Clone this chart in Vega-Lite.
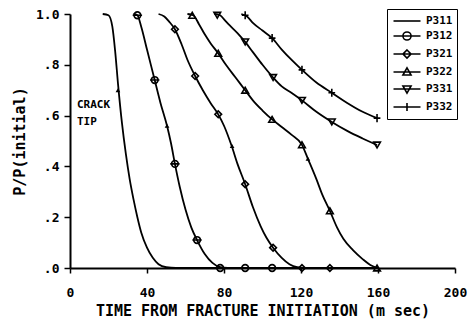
{
  "$schema": "https://vega.github.io/schema/vega-lite/v6.json",
  "width": 385,
  "height": 254,
  "autosize": {"type": "none"},
  "padding": {"left": 70, "top": 14, "right": 13, "bottom": 56},
  "background": "white",
  "config": {
    "view": {"stroke": null},
    "font": "DejaVu Sans Mono",
    "axis": {
      "grid": false,
      "domainColor": "black",
      "domainWidth": 2,
      "tickColor": "black",
      "tickWidth": 1.5,
      "tickSize": 5,
      "labelFont": "DejaVu Sans Mono",
      "labelFontWeight": "bold",
      "labelFontSize": 13,
      "labelColor": "black",
      "titleFont": "DejaVu Sans Mono",
      "titleFontWeight": "bold",
      "titleFontSize": 15,
      "titleColor": "black",
      "labelFlush": false
    }
  },
  "data": {
    "values": [
      {"s": "P311", "k": "line", "t": 17, "p": 1.0},
      {"s": "P311", "k": "line", "t": 20, "p": 0.995},
      {"s": "P311", "k": "line", "t": 22, "p": 0.95},
      {"s": "P311", "k": "line", "t": 23.5, "p": 0.85},
      {"s": "P311", "k": "line", "t": 25, "p": 0.72},
      {"s": "P311", "k": "line", "t": 27, "p": 0.57},
      {"s": "P311", "k": "line", "t": 29, "p": 0.45},
      {"s": "P311", "k": "line", "t": 31, "p": 0.35},
      {"s": "P311", "k": "line", "t": 33, "p": 0.27},
      {"s": "P311", "k": "line", "t": 35, "p": 0.2},
      {"s": "P311", "k": "line", "t": 37, "p": 0.14},
      {"s": "P311", "k": "line", "t": 40, "p": 0.08},
      {"s": "P311", "k": "line", "t": 43, "p": 0.04},
      {"s": "P311", "k": "line", "t": 46, "p": 0.015},
      {"s": "P311", "k": "line", "t": 50, "p": 0.003},
      {"s": "P311", "k": "line", "t": 55, "p": 0},
      {"s": "P311", "k": "line", "t": 160, "p": 0},

      {"s": "P312", "k": "line", "t": 33, "p": 1.0},
      {"s": "P312", "k": "line", "t": 35, "p": 0.995},
      {"s": "P312", "k": "line", "t": 37, "p": 0.95},
      {"s": "P312", "k": "line", "t": 40, "p": 0.86},
      {"s": "P312", "k": "line", "t": 44, "p": 0.74},
      {"s": "P312", "k": "line", "t": 47, "p": 0.65},
      {"s": "P312", "k": "line", "t": 50.4, "p": 0.56},
      {"s": "P312", "k": "line", "t": 52.5, "p": 0.49},
      {"s": "P312", "k": "line", "t": 54.5, "p": 0.41},
      {"s": "P312", "k": "line", "t": 57, "p": 0.32},
      {"s": "P312", "k": "line", "t": 60, "p": 0.23},
      {"s": "P312", "k": "line", "t": 63, "p": 0.16},
      {"s": "P312", "k": "line", "t": 66, "p": 0.11},
      {"s": "P312", "k": "line", "t": 70, "p": 0.055},
      {"s": "P312", "k": "line", "t": 74, "p": 0.02},
      {"s": "P312", "k": "line", "t": 78, "p": 0.003},
      {"s": "P312", "k": "line", "t": 82, "p": 0},
      {"s": "P312", "k": "line", "t": 160, "p": 0},

      {"s": "P321", "k": "line", "t": 46, "p": 1.0},
      {"s": "P321", "k": "line", "t": 49, "p": 0.99},
      {"s": "P321", "k": "line", "t": 51.5, "p": 0.97},
      {"s": "P321", "k": "line", "t": 54.5, "p": 0.94},
      {"s": "P321", "k": "line", "t": 58, "p": 0.88},
      {"s": "P321", "k": "line", "t": 61, "p": 0.82},
      {"s": "P321", "k": "line", "t": 65, "p": 0.756},
      {"s": "P321", "k": "line", "t": 69, "p": 0.7},
      {"s": "P321", "k": "line", "t": 73, "p": 0.65},
      {"s": "P321", "k": "line", "t": 77, "p": 0.605},
      {"s": "P321", "k": "line", "t": 80, "p": 0.56},
      {"s": "P321", "k": "line", "t": 84, "p": 0.48},
      {"s": "P321", "k": "line", "t": 87, "p": 0.41},
      {"s": "P321", "k": "line", "t": 91, "p": 0.33},
      {"s": "P321", "k": "line", "t": 95, "p": 0.24},
      {"s": "P321", "k": "line", "t": 99, "p": 0.165},
      {"s": "P321", "k": "line", "t": 102, "p": 0.12},
      {"s": "P321", "k": "line", "t": 105.5, "p": 0.08},
      {"s": "P321", "k": "line", "t": 110, "p": 0.04},
      {"s": "P321", "k": "line", "t": 114, "p": 0.015},
      {"s": "P321", "k": "line", "t": 118, "p": 0.003},
      {"s": "P321", "k": "line", "t": 122, "p": 0},
      {"s": "P321", "k": "line", "t": 160, "p": 0},

      {"s": "P322", "k": "line", "t": 61, "p": 1.0},
      {"s": "P322", "k": "line", "t": 64, "p": 0.995},
      {"s": "P322", "k": "line", "t": 67, "p": 0.96},
      {"s": "P322", "k": "line", "t": 70, "p": 0.92},
      {"s": "P322", "k": "line", "t": 73, "p": 0.885},
      {"s": "P322", "k": "line", "t": 77, "p": 0.845},
      {"s": "P322", "k": "line", "t": 81, "p": 0.8},
      {"s": "P322", "k": "line", "t": 86, "p": 0.75},
      {"s": "P322", "k": "line", "t": 91, "p": 0.7},
      {"s": "P322", "k": "line", "t": 95, "p": 0.66},
      {"s": "P322", "k": "line", "t": 100, "p": 0.62},
      {"s": "P322", "k": "line", "t": 105, "p": 0.585},
      {"s": "P322", "k": "line", "t": 110, "p": 0.555},
      {"s": "P322", "k": "line", "t": 115, "p": 0.525},
      {"s": "P322", "k": "line", "t": 120.5, "p": 0.485},
      {"s": "P322", "k": "line", "t": 123.6, "p": 0.43},
      {"s": "P322", "k": "line", "t": 128, "p": 0.35},
      {"s": "P322", "k": "line", "t": 131, "p": 0.29},
      {"s": "P322", "k": "line", "t": 135, "p": 0.225},
      {"s": "P322", "k": "line", "t": 138.7, "p": 0.16},
      {"s": "P322", "k": "line", "t": 142, "p": 0.115},
      {"s": "P322", "k": "line", "t": 147, "p": 0.07},
      {"s": "P322", "k": "line", "t": 152, "p": 0.035},
      {"s": "P322", "k": "line", "t": 156, "p": 0.012},
      {"s": "P322", "k": "line", "t": 160, "p": 0},

      {"s": "P331", "k": "line", "t": 75, "p": 1.0},
      {"s": "P331", "k": "line", "t": 78, "p": 0.995},
      {"s": "P331", "k": "line", "t": 80.5, "p": 0.975},
      {"s": "P331", "k": "line", "t": 83, "p": 0.955},
      {"s": "P331", "k": "line", "t": 87, "p": 0.925},
      {"s": "P331", "k": "line", "t": 91, "p": 0.89},
      {"s": "P331", "k": "line", "t": 95, "p": 0.85},
      {"s": "P331", "k": "line", "t": 100, "p": 0.8},
      {"s": "P331", "k": "line", "t": 105.5, "p": 0.75},
      {"s": "P331", "k": "line", "t": 110, "p": 0.715},
      {"s": "P331", "k": "line", "t": 115, "p": 0.69},
      {"s": "P331", "k": "line", "t": 120.5, "p": 0.66},
      {"s": "P331", "k": "line", "t": 128, "p": 0.615},
      {"s": "P331", "k": "line", "t": 136, "p": 0.575},
      {"s": "P331", "k": "line", "t": 144, "p": 0.54},
      {"s": "P331", "k": "line", "t": 152, "p": 0.51},
      {"s": "P331", "k": "line", "t": 159.5, "p": 0.484},

      {"s": "P332", "k": "line", "t": 89, "p": 1.0},
      {"s": "P332", "k": "line", "t": 92, "p": 0.99},
      {"s": "P332", "k": "line", "t": 95, "p": 0.965},
      {"s": "P332", "k": "line", "t": 100, "p": 0.935},
      {"s": "P332", "k": "line", "t": 105, "p": 0.905},
      {"s": "P332", "k": "line", "t": 110, "p": 0.86},
      {"s": "P332", "k": "line", "t": 115, "p": 0.82},
      {"s": "P332", "k": "line", "t": 120.5, "p": 0.78},
      {"s": "P332", "k": "line", "t": 128, "p": 0.73},
      {"s": "P332", "k": "line", "t": 136, "p": 0.69},
      {"s": "P332", "k": "line", "t": 144, "p": 0.65},
      {"s": "P332", "k": "line", "t": 152, "p": 0.615},
      {"s": "P332", "k": "line", "t": 159.5, "p": 0.59},

      {"s": "P312", "k": "marker", "t": 35, "p": 0.995},
      {"s": "P312", "k": "marker", "t": 44, "p": 0.74},
      {"s": "P312", "k": "marker", "t": 54.5, "p": 0.41},
      {"s": "P312", "k": "marker", "t": 66, "p": 0.11},
      {"s": "P312", "k": "marker", "t": 78, "p": 0},
      {"s": "P312", "k": "marker", "t": 91, "p": 0},
      {"s": "P312", "k": "marker", "t": 105, "p": 0},

      {"s": "P321", "k": "marker", "t": 54.5, "p": 0.94},
      {"s": "P321", "k": "marker", "t": 65, "p": 0.756},
      {"s": "P321", "k": "marker", "t": 77, "p": 0.605},
      {"s": "P321", "k": "marker", "t": 91, "p": 0.33},
      {"s": "P321", "k": "marker", "t": 105.5, "p": 0.08},
      {"s": "P321", "k": "marker", "t": 120.5, "p": 0},
      {"s": "P321", "k": "marker", "t": 135, "p": 0},

      {"s": "P322", "k": "marker", "t": 63.5, "p": 0.995},
      {"s": "P322", "k": "marker", "t": 77, "p": 0.845},
      {"s": "P322", "k": "marker", "t": 91, "p": 0.7},
      {"s": "P322", "k": "marker", "t": 105, "p": 0.585},
      {"s": "P322", "k": "marker", "t": 120.5, "p": 0.485},
      {"s": "P322", "k": "marker", "t": 135, "p": 0.225},
      {"s": "P322", "k": "marker", "t": 159.5, "p": 0},

      {"s": "P331", "k": "marker", "t": 76.5, "p": 0.995},
      {"s": "P331", "k": "marker", "t": 91, "p": 0.89},
      {"s": "P331", "k": "marker", "t": 105.5, "p": 0.75},
      {"s": "P331", "k": "marker", "t": 120.5, "p": 0.66},
      {"s": "P331", "k": "marker", "t": 136, "p": 0.575},
      {"s": "P331", "k": "marker", "t": 159.5, "p": 0.484},

      {"s": "P332", "k": "marker", "t": 91, "p": 0.995},
      {"s": "P332", "k": "marker", "t": 105, "p": 0.905},
      {"s": "P332", "k": "marker", "t": 120.5, "p": 0.78},
      {"s": "P332", "k": "marker", "t": 136, "p": 0.69},
      {"s": "P332", "k": "marker", "t": 159.5, "p": 0.59},

      {"s": "P311", "k": "tip", "t": 24.9, "p": 0.7},
      {"s": "P312", "k": "tip", "t": 50.4, "p": 0.56},
      {"s": "P321", "k": "tip", "t": 84.2, "p": 0.48},
      {"s": "P322", "k": "tip", "t": 123.6, "p": 0.43},

      {"k": "label", "t": 3.6, "p": 0.64, "txt": "CRACK"},
      {"k": "label", "t": 3.6, "p": 0.575, "txt": "TIP"}
    ]
  },
  "encoding": {
    "x": {
      "field": "t",
      "type": "quantitative",
      "scale": {"domain": [0, 200], "nice": false},
      "axis": {
        "values": [0, 40, 80, 120, 160, 200],
        "title": "TIME FROM FRACTURE INITIATION (m sec)",
        "labelPadding": 13,
        "titlePadding": 4
      }
    },
    "y": {
      "field": "p",
      "type": "quantitative",
      "scale": {"domain": [0, 1], "nice": false},
      "axis": {
        "values": [0, 0.2, 0.4, 0.6, 0.8, 1.0],
        "labelExpr": "datum.value == 1 ? '1.0' : '.' + format(datum.value * 10, 'd')",
        "title": "P/P(initial)",
        "tickSize": 6,
        "labelPadding": 5,
        "titlePadding": 8
      }
    }
  },
  "resolve": {"scale": {"shape": "independent"}, "legend": {"shape": "independent"}},
  "layer": [
    {
      "transform": [{"filter": "datum.k == 'line'"}],
      "mark": {"type": "line", "interpolate": "monotone", "color": "black", "strokeWidth": 1.8},
      "encoding": {"detail": {"field": "s"}}
    },
    {
      "transform": [{"filter": "datum.k == 'marker'"}],
      "mark": {"type": "point", "filled": false, "color": "black", "strokeWidth": 1.6, "size": 45, "opacity": 1},
      "encoding": {
        "shape": {
          "field": "s",
          "type": "nominal",
          "scale": {
            "domain": ["P311", "P312", "P321", "P322", "P331", "P332"],
            "range": [
              "circle",
              "M1,0A1,1 0 1 1 -1,0A1,1 0 1 1 1,0M-1.4,0H1.4",
              "diamond",
              "triangle-up",
              "triangle-down",
              "M0,-1.2V1.2M-1,0H1"
            ]
          },
          "legend": null
        }
      }
    },
    {
      "transform": [{"filter": "datum.k == 'legendonly'"}],
      "mark": {"type": "point", "filled": false, "color": "black", "strokeWidth": 1.6, "opacity": 1},
      "encoding": {
        "shape": {
          "field": "s",
          "type": "nominal",
          "scale": {
            "domain": ["P311", "P312", "P321", "P322", "P331", "P332"],
            "range": [
              "M-2,0H2",
              "M-2,0H2M0.6,0A0.6,0.6 0 1 1 -0.6,0A0.6,0.6 0 1 1 0.6,0",
              "M-2,0H2M0,-0.6L0.6,0L0,0.6L-0.6,0Z",
              "M-2,0H2M0,-0.6L0.6,0.45L-0.6,0.45Z",
              "M-2,0H2M0,0.6L0.6,-0.45L-0.6,-0.45Z",
              "M-2,0H2M0,-0.6V0.6"
            ]
          },
          "legend": {
            "orient": "none",
            "legendX": 317,
            "legendY": -5,
            "title": null,
            "padding": 4,
            "rowPadding": 2,
            "strokeColor": "black",
            "symbolSize": 182,
            "symbolStrokeWidth": 1.6,
            "symbolStrokeColor": "black",
            "symbolFillColor": "transparent",
            "symbolOpacity": 1,
            "symbolOffset": 8,
            "labelOffset": 11,
            "labelFont": "DejaVu Sans Mono",
            "labelFontWeight": "bold",
            "labelFontSize": 11,
            "labelColor": "black"
          }
        }
      }
    },
    {
      "transform": [{"filter": "datum.k == 'tip'"}],
      "mark": {"type": "point", "shape": "triangle-up", "filled": true, "color": "black", "size": 22, "opacity": 1}
    },
    {
      "transform": [{"filter": "datum.k == 'label'"}],
      "mark": {"type": "text", "align": "left", "baseline": "middle", "font": "DejaVu Sans Mono", "fontWeight": "bold", "fontSize": 11, "color": "black"},
      "encoding": {"text": {"field": "txt"}}
    }
  ]
}
